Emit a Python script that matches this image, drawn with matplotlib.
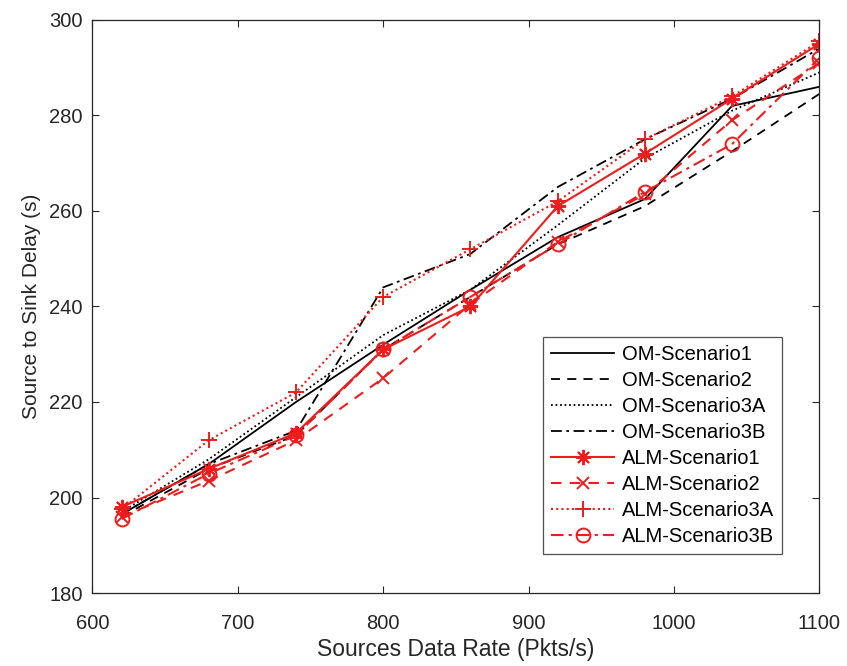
import matplotlib
matplotlib.use("Agg")
import matplotlib.pyplot as plt

plt.rcParams['font.family'] = ['Liberation Sans', 'DejaVu Sans']

# data
rate = [620, 680, 740, 800, 860, 920, 980, 1040, 1100]

om_s1 = [196.5, 207, 220, 232, 243.5, 254.5, 262.5, 282, 286]
om_s2 = [196, 206, 213, 231, 242, 253, 261, 272.5, 284.5]
om_s3a = [197, 208, 221, 234, 243.5, 257, 271, 281, 289]
om_s3b = [196.5, 207, 214, 244, 251, 265, 275, 283.5, 294]

alm_s1 = [198, 206, 213.5, 231, 240, 261, 272, 283.5, 295]
alm_s2 = [196, 203.5, 212, 225, 240.5, 253.5, 263.5, 279, 291]
alm_s3a = [197.5, 212, 222, 242, 252, 262, 275, 284, 295.5]
alm_s3b = [195.5, 205, 213, 231, 242, 253, 264, 274, 292]

fig = plt.figure(figsize=(8.47, 6.66), dpi=100)
ax = fig.add_axes([0.1092, 0.1096, 0.858, 0.8604])

ax.plot(rate, om_s1, color='black', linestyle='-', linewidth=1.3, label='OM-Scenario1')
ax.plot(rate, om_s2, color='black', linestyle=(0, (5, 4)), linewidth=1.3, label='OM-Scenario2')
ax.plot(rate, om_s3a, color='black', linestyle=(0, (1, 1.5)), linewidth=1.3, label='OM-Scenario3A')
ax.plot(rate, om_s3b, color='black', linestyle=(0, (6, 2.5, 1.5, 2.5)), linewidth=1.3, label='OM-Scenario3B')

red = '#ee1c1c'
ax.plot(rate, alm_s1, color=red, linestyle='-', linewidth=1.5, marker=(8, 2, 0),
        markersize=11, markeredgewidth=1.4, label='ALM-Scenario1')
ax.plot(rate, alm_s2, color=red, linestyle=(0, (5, 4)), linewidth=1.5, marker='x',
        markersize=9, markeredgewidth=1.4, label='ALM-Scenario2')
ax.plot(rate, alm_s3a, color=red, linestyle=(0, (1, 1.5)), linewidth=1.5, marker='+',
        markersize=11, markeredgewidth=1.4, label='ALM-Scenario3A')
ax.plot(rate, alm_s3b, color=red, linestyle=(0, (6, 2.5, 1.5, 2.5)), linewidth=1.5, marker='o',
        markersize=10, markerfacecolor='none', markeredgewidth=1.4, label='ALM-Scenario3B')

ax.set_xlim(600, 1100)
ax.set_ylim(180, 300)
ax.set_xticks([600, 700, 800, 900, 1000, 1100])
ax.set_yticks([180, 200, 220, 240, 260, 280, 300])

ax.tick_params(direction='in', top=True, right=True, length=5, labelsize=14.5,
               color='#262626', labelcolor='#262626')
ax.tick_params(axis='x', pad=15)
ax.tick_params(axis='y', pad=7)
for s in ax.spines.values():
    s.set_color('#262626')
    s.set_linewidth(0.9)

ax.set_xlabel('Sources Data Rate (Pkts/s)', fontsize=16.5, color='#262626', labelpad=4)
ax.set_ylabel('Source to Sink Delay (s)', fontsize=15, color='#262626', labelpad=6)

leg = ax.legend(loc='lower right', bbox_to_anchor=(0.949, 0.068), fontsize=14.5,
                frameon=True, fancybox=False, handlelength=3.1, handletextpad=0.4,
                labelspacing=0.35, borderpad=0.4, borderaxespad=0)
leg.get_frame().set_edgecolor('#262626')
leg.get_frame().set_linewidth(0.9)

fig.savefig('out.png', dpi=100)
